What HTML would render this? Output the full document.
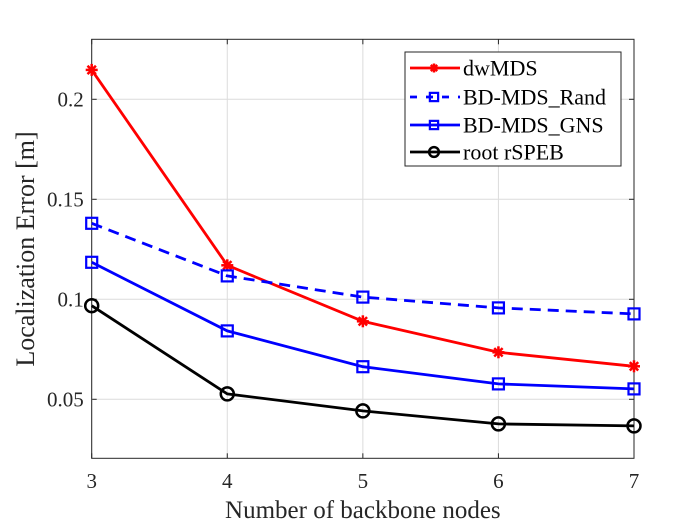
<!DOCTYPE html>
<html><head><meta charset="utf-8"><style>
html,body{margin:0;padding:0;background:#fff;}
svg{display:block;font-family:"Liberation Serif",serif;}
</style></head><body>
<svg id="chart" width="700" height="525" viewBox="0 0 700 525"></svg>
<script>
const categories = [3, 4, 5, 6, 7];
const dwMDS = [0.2147, 0.117, 0.089, 0.0735, 0.0665];
const bdRand = [0.138, 0.1117, 0.1011, 0.0957, 0.0927];
const bdGNS = [0.1185, 0.0842, 0.0663, 0.0577, 0.0552];
const rootSPEB = [0.0968, 0.0527, 0.0442, 0.0377, 0.0367];
const yTicks = [0.05, 0.1, 0.15, 0.2];
const yTickLabels = ["0.05", "0.1", "0.15", "0.2"];
const xTicks = [3, 4, 5, 6, 7];

const L = 91.7, R = 634, T = 39.3, B = 458.3;
const yMin = 0.0205, yMax = 0.23;
const xs = v => L + (v - 3) / 4 * (R - L);
const ys = v => B - (v - yMin) / (yMax - yMin) * (B - T);
const svg = document.getElementById('chart');
const NS = 'http://www.w3.org/2000/svg';
function mk(tag, attrs, parent) {
  const e = document.createElementNS(NS, tag);
  for (const k in attrs) e.setAttribute(k, attrs[k]);
  (parent || svg).appendChild(e);
  return e;
}
yTicks.forEach((t, i) => {
  const g = mk('line', {x1: L, x2: R, y1: ys(t), y2: ys(t), stroke: '#dcdcdc', 'stroke-width': 1});
  
  
  mk('line', {x1: L, x2: L + 5, y1: ys(t), y2: ys(t), stroke: '#262626', 'stroke-width': 1});
  mk('line', {x1: R - 5, x2: R, y1: ys(t), y2: ys(t), stroke: '#262626', 'stroke-width': 1});
  const tk = mk('text', {x: L - 8, y: ys(t) + 7, 'text-anchor': 'end', 'font-size': 21, fill: '#262626'});
  tk.textContent = yTickLabels[i];
  
  
});
xTicks.forEach(t => {
  const g = mk('line', {x1: xs(t), x2: xs(t), y1: T, y2: B, stroke: '#dcdcdc', 'stroke-width': 1});
  
  
  mk('line', {x1: xs(t), x2: xs(t), y1: B - 5, y2: B, stroke: '#262626', 'stroke-width': 1});
  mk('line', {x1: xs(t), x2: xs(t), y1: T, y2: T + 5, stroke: '#262626', 'stroke-width': 1});
  const tk = mk('text', {x: xs(t), y: 488, 'text-anchor': 'middle', 'font-size': 21, fill: '#262626'});
  tk.textContent = t;
  
  
});
const box = mk('rect', {x: L, y: T, width: R - L, height: B - T, fill: 'none', stroke: '#262626', 'stroke-width': 1});



function marker(type, x, y, color, parent, sc) {
  sc = sc || 1;
  if (type === 'square') {
    const h = 5.5 * sc;
    const m = mk('rect', {x: x - h, y: y - h, width: 2 * h, height: 2 * h, fill: 'none', stroke: color, 'stroke-width': 2.2}, parent);
    
    
  } else if (type === 'circle') {
    const m = mk('circle', {cx: x, cy: y, r: 6.5 * sc, fill: 'none', stroke: color, 'stroke-width': 2.5}, parent);
    
    
  } else {
    const g = mk('g', {stroke: color, 'stroke-width': 2.5}, parent);
    
    
    [[0, 6], [6, 0], [4.2, 4.2], [4.2, -4.2]].forEach(d => mk('line', {x1: x - d[0] * sc, y1: y - d[1] * sc, x2: x + d[0] * sc, y2: y + d[1] * sc}, g));
  }
}
const series = [
  {name: 'dwMDS', data: dwMDS, color: '#ff0000', dash: '', m: 'star', id: 'series-dwmds'},
  {name: 'BD-MDS_Rand', data: bdRand, color: '#0000ff', dash: '11 7', m: 'square', id: 'series-bd-mds-rand'},
  {name: 'BD-MDS_GNS', data: bdGNS, color: '#0000ff', dash: '', m: 'square', id: 'series-bd-mds-gns'},
  {name: 'root rSPEB', data: rootSPEB, color: '#000000', dash: '', m: 'circle', id: 'series-root-rspeb'}
];
series.forEach(s => {
  const g = mk('g', {});
  
  
  const pts = s.data.map((v, i) => xs(categories[i]) + ',' + ys(v)).join(' ');
  const p = mk('polyline', {points: pts, fill: 'none', stroke: s.color, 'stroke-width': 2.8, 'stroke-dasharray': s.dash}, g);
  
  
  s.data.forEach((v, i) => marker(s.m, xs(categories[i]), ys(v), s.color, g));
});
const lg = mk('g', {});


mk('rect', {x: 405, y: 52, width: 216, height: 114, fill: '#fff', stroke: '#262626', 'stroke-width': 1}, lg);
const legY = [68, 97, 125, 152];
series.forEach((s, i) => {
  const y = legY[i];
  const e = mk('g', {}, lg);
  
  
  mk('line', {x1: 410, x2: 460, y1: y, y2: y, stroke: s.color, 'stroke-width': 2.8, 'stroke-dasharray': s.dash ? '7 9' : ''}, e);
  marker(s.m, 434, y, s.color, e, 0.75);
  const t = mk('text', {x: 463, y: y + 7.5, 'font-size': 22, fill: '#000'}, e);
  t.textContent = s.name;
});
const xl = mk('text', {x: (L + R) / 2, y: 518, 'text-anchor': 'middle', 'font-size': 25, fill: '#262626'});
xl.textContent = 'Number of backbone nodes';


const yl = mk('text', {x: 0, y: 0, 'text-anchor': 'middle', 'font-size': 26, fill: '#262626', transform: 'translate(34,249) rotate(-90)'});
yl.textContent = 'Localization Error [m]';


</script>
</body></html>
